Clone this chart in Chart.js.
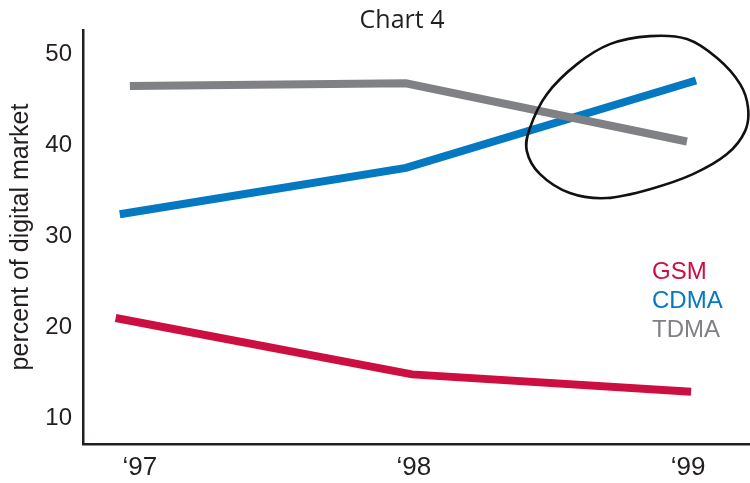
<!DOCTYPE html>
<html>
<head>
<meta charset="utf-8">
<title>Chart 4</title>
<script src="https://cdn.jsdelivr.net/npm/chart.js@4/dist/chart.umd.min.js"></script>
<style>
  html, body { margin: 0; padding: 0; background: #ffffff; }
  #wrap { width: 750px; height: 483px; position: relative; }
</style>
</head>
<body>
<div id="wrap"><canvas id="c" width="750" height="483"></canvas></div>
<script>
// Year ticks and their labels
const tickYears = [1997, 1998, 1999];
const tickLabels = ['\u201897', '\u201898', '\u201899'];
const yTicks = [10, 20, 30, 40, 50];

// Share of the digital market (%) by standard
const gsmX  = [1996.912, 1997.993, 1999.011];
const gsmY  = [21.0, 14.8, 12.9];
const cdmaX = [1996.927, 1997.971, 1999.029];
const cdmaY = [32.4, 37.5, 47.1];
const tdmaX = [1996.964, 1997.971, 1998.996];
const tdmaY = [46.5, 46.8, 40.4];

const seriesNames = ['GSM', 'CDMA', 'TDMA'];
const seriesColors = ['#cc0f40', '#0479c1', '#808185'];

// Hand-drawn loop around the CDMA/TDMA crossover, in data units (year, %)
const loopX = [1998.861, 1998.996, 1999.106, 1999.190, 1999.219, 1999.208, 1999.142, 1999.018, 1998.861,
               1998.704, 1998.569, 1998.460, 1998.412, 1998.423, 1998.485, 1998.595, 1998.715];
const loopY = [51.98, 51.65, 49.56, 46.70, 44.07, 41.54, 39.01, 36.81, 35.16,
               34.18, 34.73, 36.81, 39.34, 41.87, 45.60, 48.90, 51.10];

const ink = '#231f20';
const sans = '"Liberation Sans", Arial, Helvetica, sans-serif';

function pts(xs, ys) { return xs.map((x, i) => ({ x: x, y: ys[i] })); }

const chartTitle = {
  id: 'chartTitle',
  afterDraw(chart) {
    const ctx = chart.ctx;
    ctx.save();
    ctx.fillStyle = ink;
    ctx.font = '25px "Open Sans", sans-serif';
    ctx.textAlign = 'center';
    ctx.textBaseline = 'middle';
    ctx.fillText('Chart 4', 402, 21);
    ctx.restore();
  }
};

const textLegend = {
  id: 'textLegend',
  afterDraw(chart) {
    const ctx = chart.ctx;
    ctx.save();
    ctx.font = '24px ' + sans;
    ctx.textAlign = 'left';
    ctx.textBaseline = 'middle';
    seriesNames.forEach((name, i) => {
      ctx.fillStyle = seriesColors[i];
      ctx.fillText(name, 652, 272 + i * 29);
    });
    ctx.restore();
  }
};

// Smooth closed curve (Catmull-Rom) through the loop points
const handLoop = {
  id: 'handLoop',
  afterDraw(chart) {
    const xs = chart.scales.x, ys = chart.scales.y;
    const p = loopX.map((v, i) => [xs.getPixelForValue(v), ys.getPixelForValue(loopY[i])]);
    const n = p.length;
    const ctx = chart.ctx;
    ctx.save();
    ctx.strokeStyle = '#111111';
    ctx.lineWidth = 2.6;
    ctx.lineJoin = 'round';
    ctx.beginPath();
    ctx.moveTo(p[0][0], p[0][1]);
    for (let i = 0; i < n; i++) {
      const p0 = p[(i - 1 + n) % n], p1 = p[i], p2 = p[(i + 1) % n], p3 = p[(i + 2) % n];
      const c1x = p1[0] + (p2[0] - p0[0]) / 6, c1y = p1[1] + (p2[1] - p0[1]) / 6;
      const c2x = p2[0] - (p3[0] - p1[0]) / 6, c2y = p2[1] - (p3[1] - p1[1]) / 6;
      ctx.bezierCurveTo(c1x, c1y, c2x, c2y, p2[0], p2[1]);
    }
    ctx.closePath();
    ctx.stroke();
    ctx.restore();
  }
};

const lineStyle = {
  borderWidth: 8,
  pointRadius: 0,
  pointHoverRadius: 0,
  tension: 0,
  borderCapStyle: 'butt',
  borderJoinStyle: 'miter',
  fill: false
};

new Chart(document.getElementById('c'), {
  type: 'line',
  data: {
    datasets: [
      Object.assign({ label: seriesNames[2], data: pts(tdmaX, tdmaY), borderColor: seriesColors[2] }, lineStyle),
      Object.assign({ label: seriesNames[1], data: pts(cdmaX, cdmaY), borderColor: seriesColors[1] }, lineStyle),
      Object.assign({ label: seriesNames[0], data: pts(gsmX, gsmY), borderColor: seriesColors[0] }, lineStyle)
    ]
  },
  options: {
    responsive: false,
    animation: false,
    events: [],
    layout: { padding: { top: 30, left: 0, right: 0, bottom: 0 } },
    plugins: { legend: { display: false }, tooltip: { enabled: false }, title: { display: false } },
    scales: {
      x: {
        type: 'linear',
        min: 1996.793,
        max: 1999.226,
        grid: { display: false, drawTicks: false },
        border: { display: true, color: ink, width: 2.5 },
        afterBuildTicks: s => { s.ticks = tickYears.map(v => ({ value: v })); },
        afterFit: s => { s.height = 39; },
        ticks: {
          color: ink,
          padding: 8,
          maxRotation: 0,
          autoSkip: false,
          font: { family: sans, size: 26 },
          callback: (v) => tickLabels[tickYears.indexOf(v)]
        }
      },
      y: {
        min: 7.15,
        max: 52.65,
        grid: { display: false, drawTicks: false },
        border: { display: true, color: ink, width: 2.5 },
        afterBuildTicks: s => { s.ticks = yTicks.map(v => ({ value: v })); },
        afterFit: s => { s.width = 83; },
        ticks: {
          color: ink,
          padding: 11,
          font: { family: sans, size: 24 },
          callback: v => String(v)
        },
        title: {
          display: true,
          text: 'percent of digital market',
          color: ink,
          font: { family: sans, size: 25 },
          padding: { top: 6, bottom: 0 }
        }
      }
    }
  },
  plugins: [chartTitle, textLegend, handLoop]
});
</script>
</body>
</html>
